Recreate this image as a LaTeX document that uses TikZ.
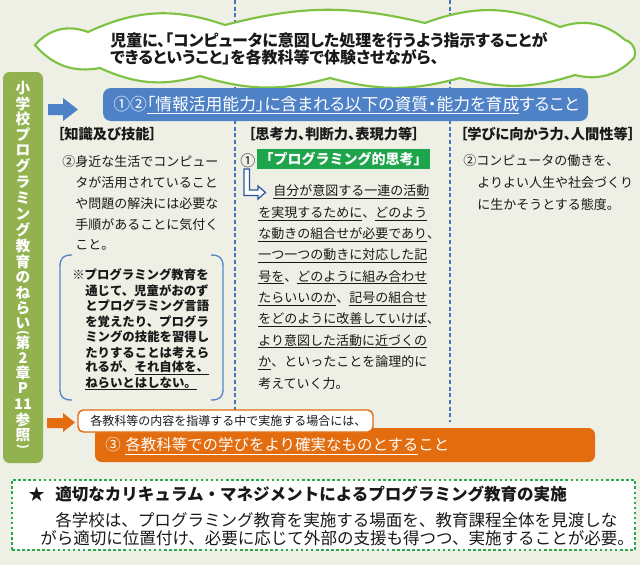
\documentclass[tikz,border=0pt]{standalone}
\usepackage{fontspec}
\setmainfont{Noto Sans CJK JP}
\newfontfamily\jpp{Noto Sans CJK JP}[RawFeature=+palt]
\definecolor{bgc}{RGB}{238,239,229}
\definecolor{cgreen}{RGB}{125,195,65}
\definecolor{barg}{RGB}{146,178,80}
\definecolor{blueB}{RGB}{79,129,199}
\definecolor{dashblue}{RGB}{70,115,190}
\definecolor{brkblue}{RGB}{85,135,200}
\definecolor{gbox}{RGB}{30,165,75}
\definecolor{larrow}{RGB}{45,85,155}
\definecolor{orng}{RGB}{226,108,14}
\definecolor{dgreen}{RGB}{40,170,70}
\definecolor{txtc}{RGB}{25,25,25}
\newsavebox\ulbx
\newcommand\uln[1]{\sbox\ulbx{#1}\rlap{\rule[-0.24em]{\wd\ulbx}{0.55pt}}\usebox\ulbx}
\newcommand\fsz[1]{\fontsize{#1}{#1}\selectfont}
\begin{document}
\begin{tikzpicture}[x=0.75pt,y=-0.75pt,
  t/.style={inner sep=0pt, anchor=west, text=txtc},
  body/.style={t, font=\fsz{9.75pt}},
  head/.style={t, font=\jpp\bfseries\fsz{10.7pt}},
  cloudtx/.style={t, font=\jpp\bfseries\fsz{12pt}},
  notetx/.style={t, font=\bfseries\fsz{9.3pt}},
  vch/.style={inner sep=0pt, text=white, font=\bfseries\fsz{11pt}},
  vpar/.style={inner sep=0pt, text=white, font=\bfseries\fsz{9pt}, rotate=-90},
  bott/.style={t, font=\fsz{12.4pt}},
  dashln/.style={draw=dashblue, line width=1pt, dash pattern=on 3pt off 2pt},
  brk/.style={draw=brkblue, line width=1pt},
  cloudln/.style={draw=cgreen, fill=white, line width=1.6pt, line join=miter},
]
\useasboundingbox (0,0) rectangle (640,565);
\fill[bgc] (0,0) rectangle (640,565);

% dashed column separators
\coordinate (d1a) at (235,0); \coordinate (d1b) at (235,422);
\coordinate (d2a) at (450,0); \coordinate (d2b) at (450,422);
\draw[dashln] (d1a) -- (d1b);
\draw[dashln] (d2a) -- (d2b);

% cloud
\draw[cloudln] (35,45) to[bend left=35] (88,32) to[bend left=22] (225,25) to[bend left=14] (425,23)
  to[bend left=22] (560,27) to[bend left=30] (625,40) to[bend left=50] (634,58)
  to[bend left=30] (575,75) to[bend left=16] (460,78) to[bend left=15] (330,78) to[bend left=16] (200,76)
  to[bend left=20] (100,68) to[bend left=30] (35,45) -- cycle;
\node[cloudtx] (c1) at (110,40) {児童に、「コンピュータに意図した処理を行うよう指示することが};
\node[cloudtx] (c2) at (110,57) {できるということ」を各教科等で体験させながら、};

% left bar
\node[fill=barg, rounded corners=5pt, minimum width=30pt, minimum height=293.25pt, inner sep=0pt] (bar) at (23,267.5) {};
\foreach \c/\yy [count=\i] in {小/88,学/103.5,校/119,プ/134.5,ロ/150,グ/166,ラ/182,ミ/198,ン/214,グ/230,教/246,育/262,の/277.5,ね/293,ら/308.5,い/323.5,第/343,2/358,章/373,P/388.5,11/404.5,参/420,照/435.5}
  \node[vch] (v\i) at (23,\yy) {\c};
\node[vpar] (vpl) at (23,333) {(};
\node[vpar] (vpr) at (23,447) {)};

% blue arrow + banner
\fill[blueB] (48,104) -- (63,104) -- (63,98) -- (78,109.5) -- (63,121) -- (63,115) -- (48,115) -- cycle;
\node[fill=blueB, rounded corners=6pt, minimum width=363.75pt, minimum height=24.75pt, inner sep=0pt] (banner) at (345.5,104.5) {};
\node[t, text=white, font=\jpp\fsz{12.6pt}] (bt) at (113,105) {①②\uln{「情報活用能力」に含まれる以下の資質・能力を育成}すること};

% headings
\node[head] (h1) at (57,134) {［知識及び技能］};
\node[head] (h2) at (248,134) {［思考力、判断力、表現力等］};
\node[head] (h3) at (460,134) {［学びに向かう力、人間性等］};

% column 1
\node[body] (a1) at (62,162) {②身近な生活でコンピュー};
\node[body] (a2) at (75,182.75) {タが活用されていること};
\node[body] (a3) at (75,203.5) {や問題の解決には必要な};
\node[body] (a4) at (75,224.25) {手順があることに気付く};
\node[body] (a5) at (75,245) {こと。};

% note bracket
\draw[brk] (72,255) .. controls (63,255) and (60,258) .. (60,267) -- (60,389) .. controls (60,397) and (63,400) .. (72,400);
\draw[brk] (211,255) .. controls (220,255) and (223,258) .. (223,267) -- (223,389) .. controls (223,397) and (220,400) .. (211,400);
\node[notetx] (n1) at (72,275) {※プログラミング教育を};
\node[notetx] (n2) at (85,290.5) {通じて、児童がおのず};
\node[notetx] (n3) at (85,306) {とプログラミング言語};
\node[notetx] (n4) at (85,321.5) {を覚えたり、プログラ};
\node[notetx] (n5) at (85,337) {ミングの技能を習得し};
\node[notetx] (n6) at (85,352.5) {たりすることは考えら};
\node[notetx] (n7) at (85,368) {れるが、\uln{それ自体を、}};
\node[notetx] (n8) at (85,383.5) {\uln{ねらいとはしない。}};

% column 2
\node[t, font=\fsz{11.25pt}] (one) at (240,161) {①};
\node[fill=gbox, minimum width=129.75pt, minimum height=15pt, inner sep=0pt,
      text=white, font=\bfseries\fsz{10.5pt}] (pt) at (343.5,159) {「プログラミング的思考」};
\draw[draw=larrow, fill=white, line width=0.9pt, line join=miter]
  (244,169) -- (244,195.5) -- (258,195.5) -- (258,199) -- (265.5,192.5) -- (258,186) -- (258,190) -- (249.5,190) -- (249.5,169) -- cycle;
\node[body] (b0) at (273,192) {\uln{自分が意図する一連の活動}};
\node[body] (b1) at (258,213.3) {\uln{を実現するために}、\uln{どのよう}};
\node[body] (b2) at (258,234.6) {\uln{な動きの組合せが必要であり}、};
\node[body] (b3) at (258,255.9) {\uln{一つ一つの動きに対応した記}};
\node[body] (b4) at (258,277.2) {\uln{号を}、\uln{どのように組み合わせ}};
\node[body] (b5) at (258,298.5) {\uln{たらいいのか}、\uln{記号の組合せ}};
\node[body] (b6) at (258,319.8) {\uln{をどのように改善していけば}、};
\node[body] (b7) at (258,341.1) {\uln{より意図した活動に近づくの}};
\node[body] (b8) at (258,362.4) {\uln{か}、といったことを論理的に};
\node[body] (b9) at (258,383.7) {考えていく力。};

% column 3
\node[body] (e1) at (463,161) {②コンピュータの働きを、};
\node[body] (e2) at (477,183) {よりよい人生や社会づくり};
\node[body] (e3) at (477,205) {に生かそうとする態度。};

% orange part
\fill[orng] (47,418) -- (63,418) -- (63,413) -- (75,422.5) -- (63,432) -- (63,428) -- (47,428) -- cycle;
\node[fill=orng, rounded corners=5pt, minimum width=375pt, minimum height=25.5pt, inner sep=0pt] (obox) at (345,445) {};
\node[draw=orng, fill=white, line width=1.1pt, rounded corners=4pt, minimum width=221.25pt, minimum height=16.5pt, inner sep=0pt] (lbox) at (225.5,421) {};
\node[t, font=\fsz{9pt}] (lt) at (90,420.5) {各教科等の内容を指導する中で実施する場合には、};
\node[t, text=white, font=\fsz{11.6pt}] (ot) at (105,446) {③\hspace{0.3em}\uln{各教科等での学びをより確実なものとする}こと};

% bottom dotted box
\node[draw=dgreen, fill=white, line width=1.9pt, dash pattern=on 1.9pt off 1.9pt,
      minimum width=467.25pt, minimum height=52.5pt, inner sep=0pt] (mbox) at (323.5,515) {};
\node[t, font=\fsz{12.4pt}] (star) at (28,494) {★};
\node[t, font=\bfseries\fsz{12.4pt}] (mt) at (55,494) {適切なカリキュラム・マネジメントによるプログラミング教育の実施};
\node[bott] (m2) at (55,520) {各学校は、プログラミング教育を実施する場面を、教育課程全体を見渡しな};
\node[bott] (m3) at (40,538) {がら適切に位置付け、必要に応じて外部の支援も得つつ、実施することが必要。};
\end{tikzpicture}
\end{document}
